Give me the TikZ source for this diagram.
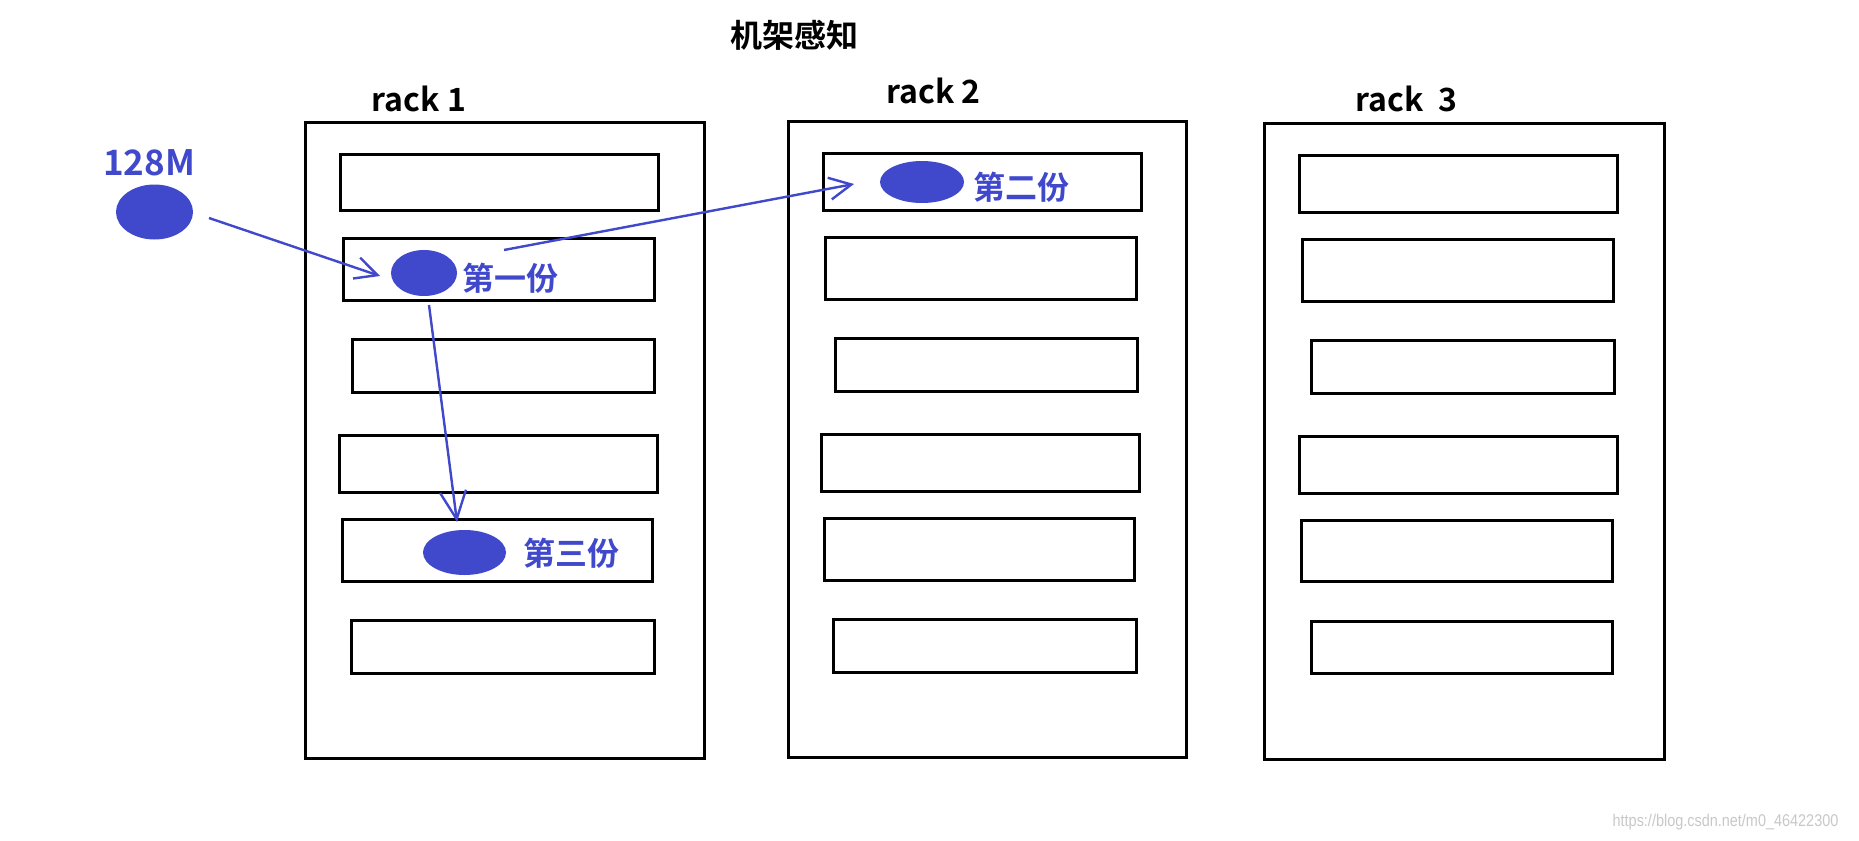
\documentclass[tikz,border=0pt]{standalone}
\usepackage{fontspec}
\newfontfamily\cjk{Noto Sans CJK SC}[BoldFont={Noto Sans CJK SC Bold}]
\newfontfamily\wm{Liberation Sans}
\usetikzlibrary{shapes.geometric,arrows.meta}
\definecolor{bl}{RGB}{64,72,204}
\definecolor{wmgray}{RGB}{200,200,200}
\begin{document}
\begin{tikzpicture}[x=1pt,y=-1pt,
  rackbox/.style={draw=black,line width=2.8pt,inner sep=0pt,rectangle},
  srv/.style={draw=black,line width=2.8pt,inner sep=0pt,rectangle},
  blob/.style={ellipse,fill=bl,draw=none,inner sep=0pt},
  lbl/.style={font=\cjk\bfseries\fontsize{32}{38}\selectfont,inner sep=0pt},
  bluelbl/.style={lbl,text=bl},
  arr/.style={draw=bl,line width=2.4pt,-{Straight Barb[length=22pt,width=22pt]}}
]
\useasboundingbox (0,0) rectangle (1859,840);
\fill[white] (0,0) rectangle (1859,840);

% title
\node[lbl] (title) at (794.5,35.5) {机架感知};

% racks
\node[rackbox,minimum width=399pt,minimum height=636pt] (r1) at (505,440.5) {};
\node[rackbox,minimum width=398pt,minimum height=636pt] (r2) at (987.5,439.5) {};
\node[rackbox,minimum width=400pt,minimum height=636pt] (r3) at (1464.5,441.5) {};

\node[lbl,anchor=base] (t1) at (419,112) {rack 1};
\node[lbl,anchor=base] (t2) at (933.5,104) {rack 2};
\node[lbl,anchor=base] (t3) at (1406.5,112) {rack\ \ 3};

% rack 1 servers
\node[srv,minimum width=318pt,minimum height=56pt] (s11) at (499.5,182.5) {};
\node[srv,minimum width=311pt,minimum height=62pt] (s12) at (499,269.5) {};
\node[srv,minimum width=302pt,minimum height=53pt] (s13) at (503.5,366) {};
\node[srv,minimum width=318pt,minimum height=57pt] (s14) at (498.5,464) {};
\node[srv,minimum width=310pt,minimum height=62pt] (s15) at (497.5,550.5) {};
\node[srv,minimum width=303pt,minimum height=53pt] (s16) at (503,647) {};

% rack 2 servers
\node[srv,minimum width=318pt,minimum height=57pt] (s21) at (982.5,182) {};
\node[srv,minimum width=311pt,minimum height=62pt] (s22) at (981,268.5) {};
\node[srv,minimum width=302pt,minimum height=53pt] (s23) at (986.5,365) {};
\node[srv,minimum width=318pt,minimum height=57pt] (s24) at (980.5,463) {};
\node[srv,minimum width=310pt,minimum height=62pt] (s25) at (979.5,549.5) {};
\node[srv,minimum width=303pt,minimum height=53pt] (s26) at (985,646) {};

% rack 3 servers
\node[srv,minimum width=318pt,minimum height=57pt] (s31) at (1458.5,184) {};
\node[srv,minimum width=311pt,minimum height=62pt] (s32) at (1458,270.5) {};
\node[srv,minimum width=303pt,minimum height=53pt] (s33) at (1463,367) {};
\node[srv,minimum width=318pt,minimum height=57pt] (s34) at (1458.5,465) {};
\node[srv,minimum width=311pt,minimum height=61pt] (s35) at (1457,551) {};
\node[srv,minimum width=301pt,minimum height=52pt] (s36) at (1462,647.5) {};

% blocks
\node[blob,minimum width=77pt,minimum height=55pt] (src) at (154.5,212) {};
\node[bluelbl,anchor=base,font=\cjk\bfseries\fontsize{35}{40}\selectfont] (srct) at (149,175) {128M};

\node[blob,minimum width=66pt,minimum height=46pt] (e1) at (424,273) {};
\node[bluelbl] (e1t) at (510,278) {第一份};

\node[blob,minimum width=84pt,minimum height=42pt] (e2) at (922,182) {};
\node[bluelbl] (e2t) at (1021,187) {第二份};

\node[blob,minimum width=83pt,minimum height=45pt] (e3) at (464.5,552.5) {};
\node[bluelbl] (e3t) at (571,553) {第三份};

% arrow end points
\coordinate (a1s) at (209,218);
\coordinate (a1e) at (380,276);
\coordinate (a2s) at (504,250);
\coordinate (a2e) at (854,184);
\coordinate (a3s) at (429,305);
\coordinate (a3e) at (457,522);

\draw[arr] (a1s) -- (a1e);
\draw[arr] (a2s) -- (a2e);
\draw[arr,-{Straight Barb[length=28pt,width=26pt]}] (a3s) -- (a3e);

% watermark
\node[text=wmgray,font=\wm\fontsize{17}{20}\selectfont,inner sep=0pt,xscale=0.85] (wmark) at (1725.5,822) {https://blog.csdn.net/m0\_46422300};
\end{tikzpicture}
\end{document}
